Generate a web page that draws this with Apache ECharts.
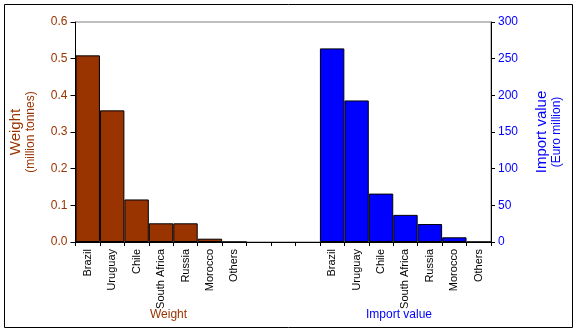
<!DOCTYPE html>
<html><head><meta charset="utf-8">
<script src="https://cdn.jsdelivr.net/npm/echarts@6/dist/echarts.min.js"></script>
<style>html,body{margin:0;padding:0;background:#fff}#c{width:577px;height:332px}</style>
</head><body><div id="c"></div>
<script>
const countries = ['Brazil','Uruguay','Chile','South Africa','Russia','Morocco','Others'];
const gapSlots = ['', '', ''];
const weightValues = [0.509, 0.359, 0.116, 0.051, 0.051, 0.009, 0];
const importValues = [264, 193, 66, 37, 24.5, 6.4, 0];
const weightTicks = [0, 0.1, 0.2, 0.3, 0.4, 0.5, 0.6];
const importTicks = [0, 50, 100, 150, 200, 250, 300];

const categories = countries.concat(gapSlots, countries);
const nulls = n => Array(n).fill(null);
const weightData = weightValues.concat(nulls(gapSlots.length + countries.length));
const importData = nulls(countries.length + gapSlots.length).concat(importValues);

const font = 'Liberation Sans, Arial, sans-serif';
const brown = '#993300', blue = '#0000FF';

const chart = echarts.init(document.getElementById('c'));
chart.setOption({
  animation: false,
  textStyle: {fontFamily: font},
  grid: {left: 72, right: 86, top: 22, bottom: 90, show: true, borderColor: '#808080', borderWidth: 1},
  xAxis: {
    type: 'category', data: categories,
    axisLine: {lineStyle: {color: '#000', width: 1}},
    axisTick: {show: true, length: 4, lineStyle: {color: '#000'}},
    axisLabel: {rotate: 90, color: '#000', fontSize: 11, fontFamily: font, margin: 7, interval: 0}
  },
  yAxis: [{
    type: 'value', min: weightTicks[0], max: weightTicks[weightTicks.length - 1], interval: 0.1,
    axisLine: {show: true, lineStyle: {color: '#000'}},
    axisTick: {show: true, length: 5, lineStyle: {color: '#000'}},
    splitLine: {show: false},
    axisLabel: {color: brown, fontSize: 12, fontFamily: font, margin: 8,
      formatter: v => v.toFixed(1)},
    name: '{a|Weight}\n{b|(million tonnes)}', nameLocation: 'middle', nameRotate: 90, nameGap: 38,
    nameTextStyle: {rich: {a: {fontSize: 15, color: brown, fontFamily: font, lineHeight: 16},
                           b: {fontSize: 12, color: brown, fontFamily: font, lineHeight: 14}}, align: 'center'}
  }, {
    type: 'value', min: importTicks[0], max: importTicks[importTicks.length - 1], interval: 50, position: 'right',
    axisLine: {show: true, lineStyle: {color: '#000'}},
    axisTick: {show: true, length: 4, lineStyle: {color: '#000'}},
    splitLine: {show: false},
    axisLabel: {color: blue, fontSize: 12, fontFamily: font, margin: 7},
    name: '{a|Import value}\n{b|(Euro million)}', nameLocation: 'middle', nameRotate: 90, nameGap: 43,
    nameTextStyle: {rich: {a: {fontSize: 15, color: blue, fontFamily: font, lineHeight: 16},
                           b: {fontSize: 12, color: blue, fontFamily: font, lineHeight: 14}}, align: 'center'}
  }],
  series: [{
    type: 'bar', yAxisIndex: 0, data: weightData, barWidth: '100%', barGap: '-100%',
    itemStyle: {color: brown, borderColor: '#000', borderWidth: 1}
  }, {
    type: 'bar', yAxisIndex: 1, data: importData, barWidth: '100%', barGap: '-100%',
    itemStyle: {color: blue, borderColor: '#000', borderWidth: 1}
  }],
  graphic: [
    {type: 'rect', shape: {x: 4.5, y: 4.5, width: 568, height: 323}, style: {fill: 'none', stroke: '#000', lineWidth: 1}, silent: true},
    {type: 'text', left: 150, top: 309, style: {text: 'Weight', fill: brown, font: '12px ' + font}},
    {type: 'text', left: 366, top: 309, style: {text: 'Import value', fill: blue, font: '12px ' + font}}
  ]
});
</script></body></html>
